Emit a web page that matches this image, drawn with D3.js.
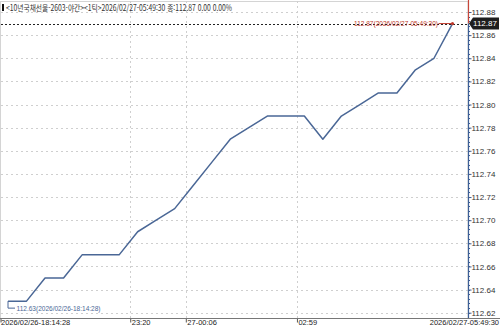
<!DOCTYPE html>
<html lang="ko">
<head>
<meta charset="UTF-8">
<title>10년국채선물 야간</title>
<script src="https://d3js.org/d3.v7.min.js"></script>
<style>
  body { margin: 0; background: #fff; }
  svg { display: block; font-family: "Liberation Sans", "Noto Sans CJK KR", sans-serif; }
</style>
</head>
<body>
<div id="chart"></div>
<script>
// 데이터: 틱 순서대로 종가
const prices = [112.63, 112.63, 112.65, 112.65, 112.67, 112.67, 112.67, 112.69, 112.70, 112.71,
                112.73, 112.75, 112.77, 112.78, 112.79, 112.79, 112.79, 112.77, 112.79, 112.80,
                112.81, 112.81, 112.83, 112.84, 112.87];
// x축 라벨 (틱 인덱스 위치)
const xTickPos = [0, 6.6, 9.6, 15.6, 24];
const xTickLabels = ["2026/02/26-18:14:28", "23:20", "27-00:06", "02:59", "2026/02/27-05:49:30"];
const yTicks = [112.62, 112.64, 112.66, 112.68, 112.70, 112.72, 112.74, 112.76, 112.78, 112.80, 112.82, 112.84, 112.86, 112.88];
const titleText = "<10년국채선물-2603-야간><1틱>2026/02/27-05:49:30 종:112.87 0.00 0.00%";
const firstLabel = "112.63(2026/02/26-18:14:28)";
const lastLabel = "112.87(2026/02/27-05:49:30)";

const W = 500, H = 329;
const axisX = 468, plotTop = 1, plotBottom = 318;

const svg = d3.select("#chart").append("svg").attr("width", W).attr("height", H);

const x = d3.scaleLinear().domain([0, prices.length - 1]).range([8, 452.5]);
const y = d3.scaleLinear().domain([112.62, 112.88]).range([312.7, 12]);

// 테두리
svg.append("rect").attr("x", 0.5).attr("y", plotTop + 0.5)
   .attr("width", axisX - 0.5).attr("height", plotBottom - plotTop)
   .attr("fill", "none").attr("stroke", "#d4d4d4");

// 가로 그리드
svg.append("g").selectAll("line").data(yTicks).enter().append("line")
   .attr("x1", 1).attr("x2", axisX)
   .attr("y1", d => Math.round(y(d)) + 0.5).attr("y2", d => Math.round(y(d)) + 0.5)
   .attr("stroke", "#cfcfcf").attr("stroke-dasharray", "2,3");

// 세로 그리드
svg.append("g").selectAll("line").data(xTickPos.slice(1, -1)).enter().append("line")
   .attr("x1", d => Math.round(x(d)) + 0.5).attr("x2", d => Math.round(x(d)) + 0.5)
   .attr("y1", plotTop).attr("y2", plotBottom)
   .attr("stroke", "#cfcfcf").attr("stroke-dasharray", "2,3");

// 현재가 점선
const last = prices[prices.length - 1];
svg.append("line").attr("x1", 1).attr("x2", axisX)
   .attr("y1", Math.round(y(last)) + 0.5).attr("y2", Math.round(y(last)) + 0.5)
   .attr("stroke", "#222").attr("stroke-dasharray", "2,2");

// 가격 라인
const line = d3.line().x((d, i) => x(i)).y(d => y(d));
svg.append("path").datum(prices)
   .attr("fill", "none").attr("stroke", "#4a6796").attr("stroke-width", 1.5)
   .attr("stroke-linejoin", "round").attr("d", line);

// 시작가 표시
const fx = x(0), fy = y(prices[0]);
svg.append("path")
   .attr("d", `M${fx},${fy}V${fy + 7}H${fx + 7}`)
   .attr("fill", "none").attr("stroke", "#4a6796").attr("stroke-width", 1);
svg.append("text").attr("x", fx + 8.5).attr("y", fy + 7).attr("dy", "0.35em")
   .attr("font-size", 8).attr("fill", "#4a6796")
   .attr("textLength", 84).attr("lengthAdjust", "spacingAndGlyphs")
   .text(firstLabel);

// 종가 표시
const lx = x(prices.length - 1), ly = y(last);
svg.append("line").attr("x1", lx - 14).attr("x2", lx).attr("y1", ly).attr("y2", ly)
   .attr("stroke", "#c0392b").attr("stroke-width", 1);
svg.append("circle").attr("cx", lx).attr("cy", ly).attr("r", 1.6).attr("fill", "#c0392b");
svg.append("text").attr("x", lx - 14.5).attr("y", ly).attr("dy", "0.35em")
   .attr("text-anchor", "end").attr("font-size", 8).attr("fill", "#c0392b")
   .attr("textLength", 84).attr("lengthAdjust", "spacingAndGlyphs")
   .text(lastLabel);

// 오른쪽 축
const yAxis = d3.axisRight(y).tickValues(yTicks).tickSize(3).tickFormat(d3.format(".2f"));
const gy = svg.append("g").attr("transform", `translate(${axisX + 0.5},0)`).call(yAxis);
gy.select(".domain").remove();
gy.selectAll(".tick line").attr("stroke", "#3d5f96");
gy.selectAll(".tick text").attr("x", 3).attr("font-size", 8)
  .attr("font-family", "Liberation Sans, sans-serif").attr("fill", "#333");

// 보조 눈금
svg.append("g").selectAll("line").data(d3.range(0, 66).map(i => 112.62 + i * 0.004)).enter().append("line")
   .attr("x1", axisX).attr("x2", axisX + 2)
   .attr("y1", d => Math.round(y(d)) + 0.5).attr("y2", d => Math.round(y(d)) + 0.5)
   .attr("stroke", "#3d5f96");

// 축선: 현재가 위는 빨강, 아래는 파랑
svg.append("line").attr("x1", axisX + 0.5).attr("x2", axisX + 0.5)
   .attr("y1", 0).attr("y2", ly).attr("stroke", "#c8463a").attr("stroke-width", 1.2);
svg.append("line").attr("x1", axisX + 0.5).attr("x2", axisX + 0.5)
   .attr("y1", ly).attr("y2", plotBottom).attr("stroke", "#3d5f96").attr("stroke-width", 1.2);

// 현재가 박스
svg.append("path")
   .attr("d", `M${axisX + 1},${ly}L${axisX + 5},${ly - 6}H499V${ly + 6}H${axisX + 5}Z`)
   .attr("fill", "#1e1e1e");
svg.append("text").attr("x", 485).attr("y", ly).attr("dy", "0.35em")
   .attr("text-anchor", "middle").attr("font-size", 8).attr("fill", "#fff")
   .text(d3.format(".2f")(last));

// 아래 축
const xAxis = d3.axisBottom(x).tickValues(xTickPos).tickSize(4).tickFormat((d, i) => xTickLabels[i]);
const gx = svg.append("g").attr("transform", `translate(0,${plotBottom + 0.5})`).call(xAxis);
gx.select(".domain").remove();
gx.selectAll(".tick line").attr("stroke", "#555");
gx.selectAll(".tick text").attr("y", 1.5).attr("dy", "0.71em")
  .attr("font-size", 7.5).attr("font-family", "Liberation Sans, sans-serif").attr("fill", "#222")
  .attr("text-anchor", "start");
gx.selectAll(".tick").filter((d, i) => i === 0).attr("transform", "translate(1,0)")
  .select("text").attr("x", 0);
gx.selectAll(".tick").filter((d, i) => i === xTickPos.length - 1).attr("transform", `translate(${W - 1},0)`)
  .select("line").remove();
gx.selectAll(".tick").filter((d, i) => i === xTickPos.length - 1).select("text").attr("text-anchor", "end");
gx.selectAll(".tick").filter((d, i) => i > 0 && i < xTickPos.length - 1).select("text").attr("x", 1);
svg.append("line").attr("x1", 0).attr("x2", W).attr("y1", plotBottom + 0.5).attr("y2", plotBottom + 0.5)
   .attr("stroke", "#777");

// 제목
svg.append("rect").attr("x", 2).attr("y", 4).attr("width", 2).attr("height", 7).attr("fill", "#111");
svg.append("text").attr("x", 6).attr("y", 8).attr("dy", "0.35em")
   .attr("font-size", 8.5).attr("fill", "#333")
   .attr("font-family", "Noto Sans CJK KR, sans-serif")
   .attr("textLength", 226).attr("lengthAdjust", "spacingAndGlyphs")
   .text(titleText);
</script>
</body>
</html>
